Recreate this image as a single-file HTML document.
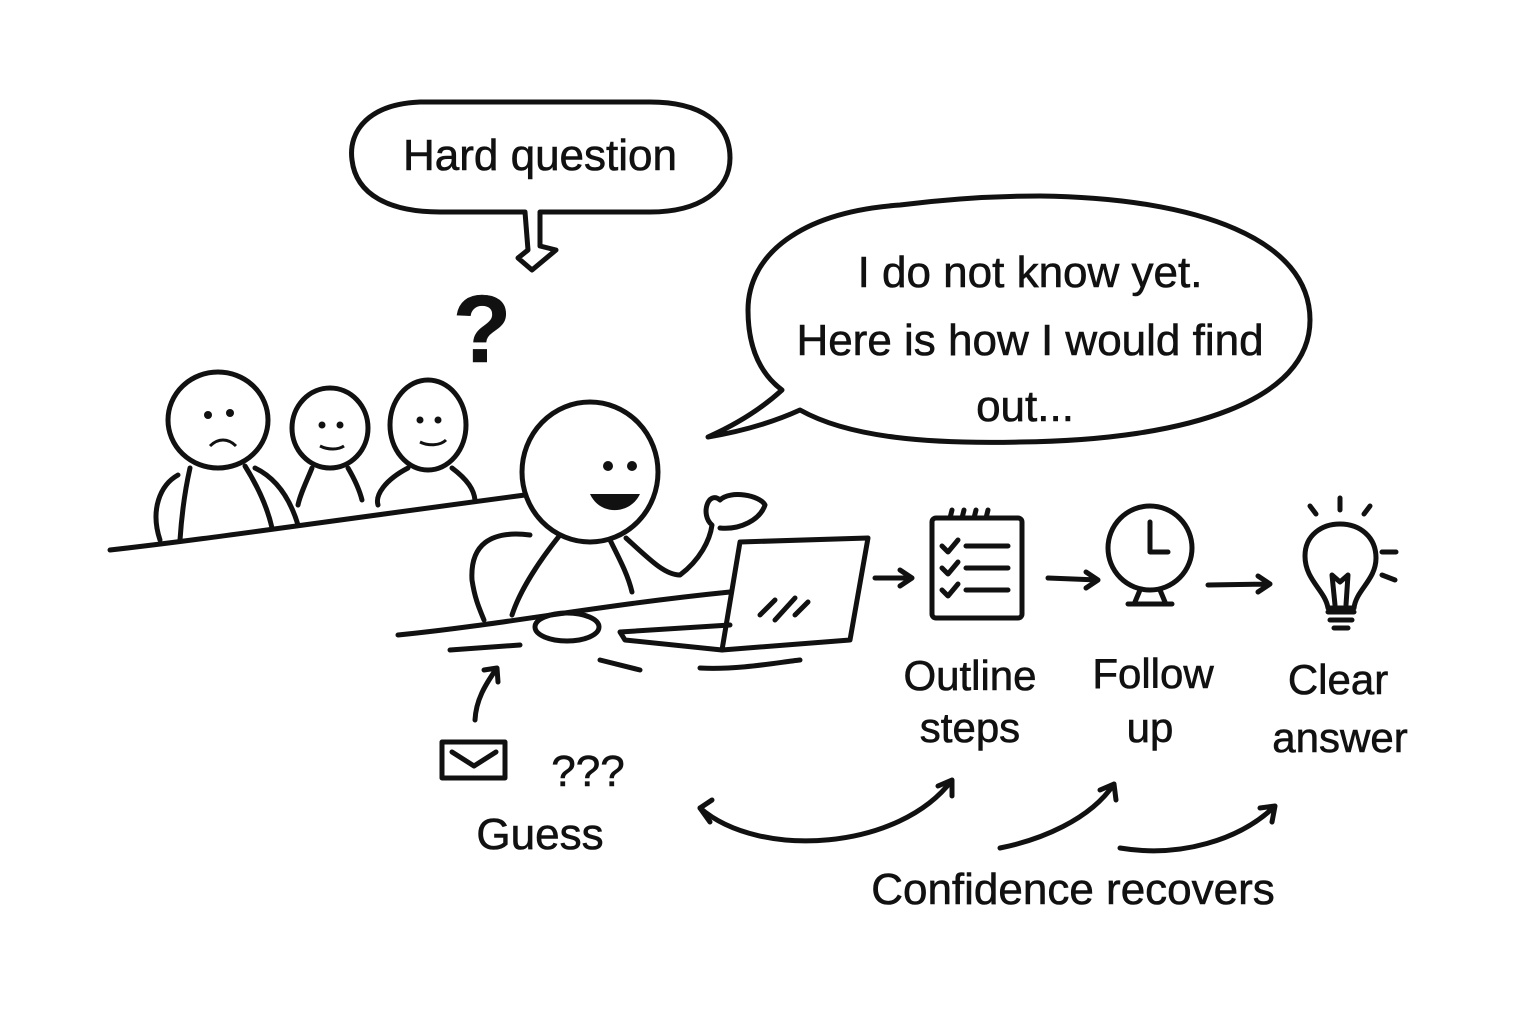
<!DOCTYPE html>
<html><head><meta charset="utf-8"><style>
html,body{margin:0;padding:0;background:#fff;}
svg{display:block;}
text{font-family:"Liberation Sans",sans-serif;fill:#111;stroke:#111;stroke-width:0.6;}
</style></head><body>
<svg width="1536" height="1024" viewBox="0 0 1536 1024" xmlns="http://www.w3.org/2000/svg">
<rect width="1536" height="1024" fill="#fff"/>
<g fill="none" stroke="#111" stroke-width="5" stroke-linecap="round" stroke-linejoin="round">
<path d="M420,102 C370,104 348,130 352,160 C356,195 390,212 440,212 L525,212 L528,250 L518,258 L532,270 L556,250 L540,246 L540,212 L650,212 C700,212 730,190 730,158 C730,122 700,102 650,102 Z"/>
<path d="M900,205 C800,212 748,255 748,310 C748,350 762,375 782,390 C760,410 735,425 708,437 C750,430 778,420 800,410 C850,438 930,444 1020,442 C1190,440 1310,400 1310,320 C1310,240 1200,198 1040,196 C990,196 940,200 900,205 Z"/>
<ellipse cx="218" cy="420" rx="50" ry="48"/>
<ellipse cx="330" cy="428" rx="38" ry="40"/>
<ellipse cx="428" cy="425" rx="38" ry="45"/>
<path d="M190,468 C185,490 182,510 180,540 M245,466 C260,490 268,510 272,528"/>
<path d="M178,475 C160,485 150,510 160,540 M255,468 C280,480 292,505 298,525"/>
<path d="M312,468 C305,485 300,495 298,505 M348,468 C355,480 360,492 362,500"/>
<path d="M408,468 C385,480 375,495 378,505 M452,468 C468,480 474,490 475,500"/>
<path d="M110,550 C200,540 300,525 525,495"/>
<ellipse cx="590" cy="472" rx="68" ry="70"/>
<path d="M560,535 C540,560 520,590 512,615 M610,540 C620,560 628,575 632,592"/>
<path d="M626,538 C650,560 665,575 680,575 C700,560 710,540 712,525 C700,515 708,490 720,500 C730,490 760,495 765,505 C760,520 740,530 720,528"/>
<path d="M530,535 C490,530 470,545 472,580 C475,600 480,610 484,620"/>
<path d="M398,635 C500,625 600,605 730,592"/>
<path d="M450,650 L520,645 M600,660 L640,670 M700,668 C740,670 780,662 800,660"/>
<ellipse cx="567" cy="627" rx="32" ry="14"/>
<path d="M740,542 L868,538 L850,640 L722,650 Z"/>
<path d="M722,650 L625,640 L620,632 L730,625"/>
<path d="M760,615 L775,600 M775,620 L795,598 M795,615 L808,602"/>
<path d="M875,578 L912,578 M900,570 L912,578 L900,586"/>
<path d="M1048,578 L1098,580 M1086,572 L1098,580 L1086,588"/>
<path d="M1208,585 L1270,584 M1258,576 L1270,584 L1258,592"/>
<rect x="932" y="518" width="90" height="100" rx="4"/>
<path d="M950,518 L952,510 M962,518 L964,510 M974,518 L976,510 M986,518 L988,510"/>
<path d="M942,546 L948,552 L958,540 M966,546 L1008,546 M942,568 L948,574 L958,562 M966,568 L1008,568 M942,590 L948,596 L958,584 M966,590 L1008,590"/>
<circle cx="1150" cy="548" r="42"/>
<path d="M1150,522 L1150,552 L1168,552 M1140,590 L1135,602 M1160,590 L1165,602 M1128,604 L1172,604"/>
<path d="M1328,608 C1325,590 1305,580 1305,556 C1305,535 1322,524 1340,524 C1360,524 1376,537 1376,558 C1376,580 1356,590 1354,608 Z"/>
<path d="M1328,612 L1354,612 M1330,620 L1352,620 M1334,628 L1348,628 M1335,605 L1332,575 L1340,582 L1348,575 L1346,605"/>
<path d="M1316,514 L1310,506 M1340,510 L1340,498 M1364,514 L1370,506 M1382,552 L1396,552 M1382,575 L1395,580"/>
<rect x="442" y="742" width="63" height="36"/>
<path d="M452,752 L474,766 L496,752"/>
<path d="M475,720 C476,700 485,685 497,668 M484,670 L497,668 L498,682"/>
<path d="M700,808 C760,860 900,850 952,780 M938,786 L952,780 L952,796"/>
<path d="M700,808 L712,800 M700,808 L710,822"/>
<path d="M1000,848 C1040,840 1090,820 1114,784 M1100,790 L1114,784 L1116,800"/>
<path d="M1120,848 C1180,858 1240,840 1275,806 M1260,808 L1275,806 L1272,822"/>
</g>
<g fill="#111">
<circle cx="608" cy="466" r="5"/><circle cx="632" cy="466" r="5"/>
<path d="M590,494 C600,516 630,515 640,494 Z"/>
<circle cx="208" cy="415" r="4"/><circle cx="230" cy="413" r="4"/>
<circle cx="322" cy="425" r="3.5"/><circle cx="340" cy="425" r="3.5"/>
<circle cx="420" cy="420" r="3.5"/><circle cx="438" cy="420" r="3.5"/>
</g>
<path d="M210,446 C218,438 228,438 236,446 M320,446 C328,450 338,450 344,446 M420,442 C428,446 440,446 446,440" fill="none" stroke="#111" stroke-width="3"/>
<text x="540" y="170" font-size="44" text-anchor="middle">Hard question</text>
<text x="482" y="362" font-size="96" font-weight="bold" text-anchor="middle">?</text>
<text x="1030" y="287" font-size="44" text-anchor="middle">I do not know yet.</text>
<text x="1030" y="355" font-size="44" text-anchor="middle">Here is how I would find</text>
<text x="1025" y="421" font-size="44" text-anchor="middle">out...</text>
<text x="970" y="690" font-size="42" text-anchor="middle">Outline</text>
<text x="970" y="742" font-size="42" text-anchor="middle">steps</text>
<text x="1153" y="688" font-size="42" text-anchor="middle">Follow</text>
<text x="1150" y="742" font-size="42" text-anchor="middle">up</text>
<text x="1338" y="694" font-size="42" text-anchor="middle">Clear</text>
<text x="1340" y="752" font-size="42" text-anchor="middle">answer</text>
<text x="588" y="786" font-size="44" text-anchor="middle">???</text>
<text x="540" y="849" font-size="44" text-anchor="middle">Guess</text>
<text x="1073" y="904" font-size="44" text-anchor="middle">Confidence recovers</text>
</svg>
</body></html>
